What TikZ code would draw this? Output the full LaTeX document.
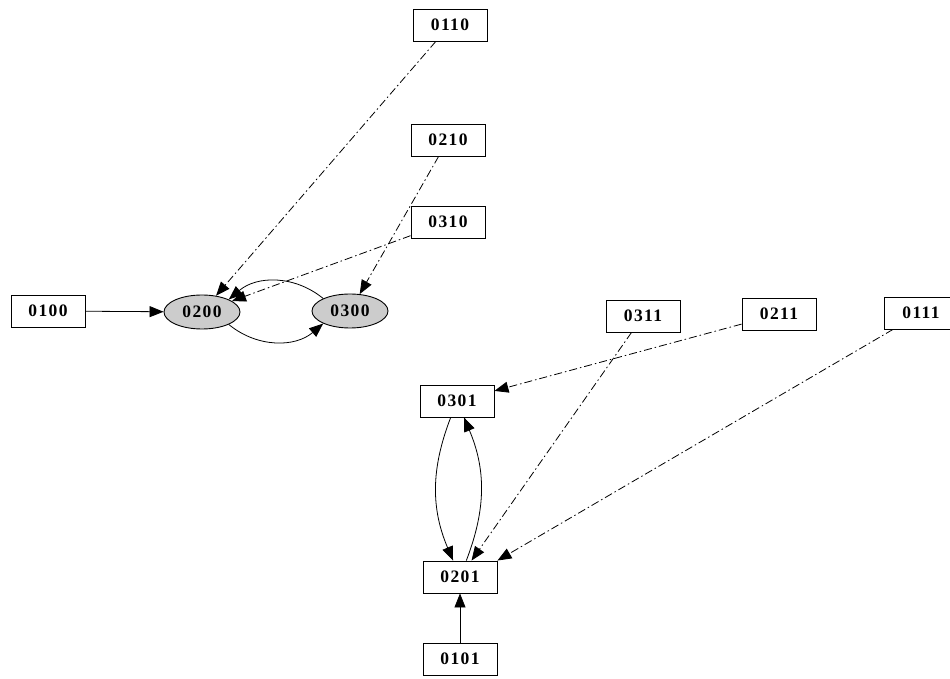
\documentclass[tikz,border=0pt]{standalone}
\usepackage{fontspec}
\setmainfont{Liberation Serif}
\newfontfamily\lblfont[LetterSpace=8]{Liberation Serif}
\usetikzlibrary{arrows.meta,shapes.geometric}
\begin{document}
\begin{tikzpicture}[x=1pt,y=1pt,
  box/.style={draw,line width=0.9pt,rectangle,minimum width=74pt,minimum height=32pt,inner sep=0pt,font=\lblfont\bfseries\fontsize{17.5}{17.5}\selectfont},
  oval/.style={draw,line width=0.9pt,ellipse,fill=black!20,minimum width=76pt,minimum height=34pt,inner sep=0pt,font=\lblfont\bfseries\fontsize{17.5}{17.5}\selectfont},
  solidarr/.style={draw,line width=0.8pt,-{Triangle[length=14pt,width=11pt]}},
  dotarr/.style={draw,line width=0.8pt,dash pattern=on 8pt off 3pt on 1.5pt off 3pt,-{Triangle[length=14pt,width=11pt]}}
]
\useasboundingbox (0,0) rectangle (950,678);
\node[box] (n0110) at (450,653) {0110};
\node[box] (n0210) at (448,538) {0210};
\node[box] (n0310) at (448,456) {0310};
\node[box] (n0100) at (48,367) {0100};
\node[oval] (n0200) at (202,366) {0200};
\node[oval] (n0300) at (350,367) {0300};
\node[box] (n0311) at (643,362) {0311};
\node[box] (n0211) at (779,364) {0211};
\node[box] (n0111) at (921,365) {0111};
\node[box] (n0301) at (457,277) {0301};
\node[box] (n0201) at (460,101) {0201};
\node[box] (n0101) at (460,19) {0101};

\draw[solidarr] (n0100) -- (n0200);
\draw[dotarr] (n0110) -- (n0200);
\draw[dotarr] (n0210) -- (n0300);
\draw[dotarr] (n0310) -- (n0200);
\draw[solidarr] (n0200.-25) to[bend right=40] (n0300.205);
\draw[solidarr] (n0300.155) to[bend right=40] (n0200.25);
\draw[dotarr] (n0211) -- (n0301);
\draw[dotarr] (n0311) -- (n0201);
\draw[dotarr] (n0111) -- (n0201.north east);
\draw[solidarr] (n0301) to[bend right=22] (n0201);
\draw[solidarr] (n0201) to[bend right=22] (n0301);
\draw[solidarr] (n0101) -- (n0201);
\end{tikzpicture}
\end{document}
